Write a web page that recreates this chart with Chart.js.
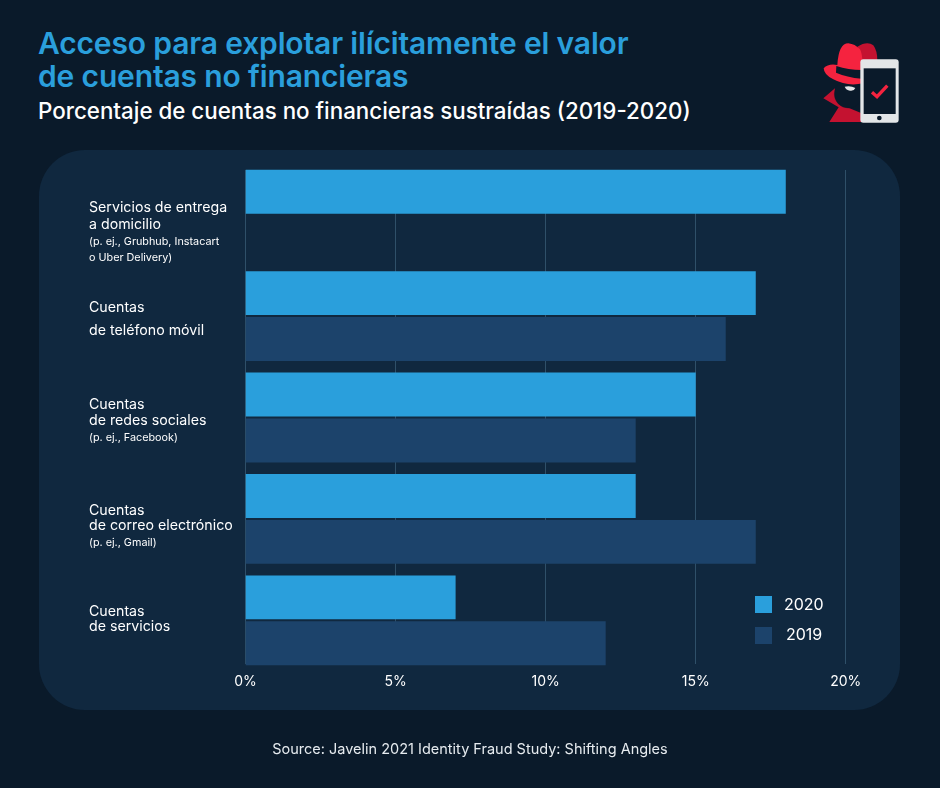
<!DOCTYPE html>
<html>
<head>
<meta charset="utf-8">
<script src="https://cdn.jsdelivr.net/npm/chart.js@4"></script>
<style>
html, body { margin: 0; padding: 0; background: #0a1a2a; }
body { width: 940px; height: 788px; position: relative; overflow: hidden; font-family: Inter, sans-serif; color: #fff; }
#panel { position: absolute; left: 39px; top: 150px; width: 861px; height: 560px; border-radius: 46px; background: #10283f; }
#chartWrap { position: absolute; left: 0; top: 0; width: 940px; height: 788px; }
h1 { position: absolute; left: 38px; top: 27px; margin: 0; font-size: 30px; line-height: 33px; font-weight: 600; color: #2a9fdc; letter-spacing: -0.15px; }
h2 { position: absolute; left: 38px; top: 97px; margin: 0; font-size: 22.35px; line-height: 28px; font-weight: 500; color: #fff; }
#source { position: absolute; left: 0; width: 940px; top: 740px; text-align: center; font-size: 14.5px; line-height: 18px; color: #e6ebef; }
#icon { position: absolute; left: 780px; top: 20px; }
</style>
</head>
<body>
<h1>Acceso para explotar ilícitamente el valor<br>de cuentas no financieras</h1>
<h2>Porcentaje de cuentas no financieras sustraídas (2019-2020)</h2>
<svg id="icon" width="140" height="120" viewBox="0 0 420 360">
  <path d="M130 235 L165 205 L185 255 L245 280 L245 306 L148 306 L176 262 Z" fill="#c41230"/>
  <circle cx="205" cy="222" r="42" fill="#0a1a2a" stroke="#0a1a2a"/>
  <path d="M194 200 Q212 196 226 204 Q222 214 210 212 Q198 210 194 200 Z" fill="#e3e6e8"/>
  <path d="M232 80 Q262 62 280 76 Q292 92 292 122 L245 122 Z" fill="#c41230"/>
  <path d="M172 135 Q176 70 205 70 Q225 72 240 88 Q250 105 250 190 Q200 200 160 178 Q132 165 131 145 Q145 130 172 135 Z" fill="#f5233f"/>
  <path d="M169 138 L168 158 Q200 172 245 176 L245 150 Q205 150 169 138 Z" fill="#0a1a2a"/>
  <rect x="241" y="118" width="115" height="190" rx="9" fill="#e3e6e8"/>
  <rect x="251" y="145" width="96" height="137" fill="#0a1a2a"/>
  <circle cx="298" cy="294" r="7" fill="#0a1a2a"/>
  <path d="M276 217 L291 230 L322 197" fill="none" stroke="#f5233f" stroke-width="10"/>
</svg>
<div id="panel"></div>
<div id="chartWrap"><canvas id="barChart" width="940" height="788"></canvas></div>
<div id="source">Source: Javelin 2021 Identity Fraud Study: Shifting Angles</div>

<script>
var categories = ['Servicios de entrega a domicilio', 'Cuentas de teléfono móvil', 'Cuentas de redes sociales', 'Cuentas de correo electrónico', 'Cuentas de servicios']
var categoryLines = [
    ['Servicios de entrega', 'a domicilio'],
    ['Cuentas', 'de teléfono móvil'],
    ['Cuentas', 'de redes sociales'],
    ['Cuentas', 'de correo electrónico'],
    ['Cuentas', 'de servicios']
]
var categoryNotes = [
    ['(p. ej., Grubhub, Instacart', 'o Uber Delivery)'],
    [],
    ['(p. ej., Facebook)'],
    ['(p. ej., Gmail)'],
    []
]
var values2020 = [18, 17, 15, 13, 7]
var values2019 = [null, 16, 13, 17, 12]
var xTicks = [0, 5, 10, 15, 20]

// grid lines stop short of the category band, so they are drawn here
var shortGrid = {
    id: 'shortGrid',
    beforeDatasetsDraw: function (chart) {
        var ctx = chart.ctx
        var x = chart.scales.x
        ctx.save()
        ctx.strokeStyle = '#2f5069'
        ctx.lineWidth = 1
        xTicks.forEach(function (t) {
            var px = Math.floor(x.getPixelForValue(t)) + 0.5
            ctx.beginPath()
            ctx.moveTo(px, chart.chartArea.top + 6)
            ctx.lineTo(px, chart.chartArea.bottom - 7)
            ctx.stroke()
        })
        ctx.restore()
    }
}

// labels mix two font sizes, ticks can't do that
var sideLabels = {
    id: 'sideLabels',
    afterDraw: function (chart) {
        var ctx = chart.ctx
        var y = chart.scales.y
        var topShift = [-6.5, -8, -13, -8, -9]
        var mainGap = [17, 23, 16, 15, 15]
        ctx.save()
        ctx.fillStyle = '#ffffff'
        ctx.textBaseline = 'middle'
        ctx.textAlign = 'left'
        categories.forEach(function (c, i) {
            var top = y.getPixelForValue(i) + topShift[i]
            ctx.font = '14.2px Inter'
            categoryLines[i].forEach(function (line, k) {
                ctx.fillText(line, 89, top + k * mainGap[i])
            })
            ctx.font = '10.8px Inter'
            categoryNotes[i].forEach(function (line, k) {
                ctx.fillText(line, 89, top + mainGap[i] + 17 + k * 15.5)
            })
        })
        ctx.restore()
    }
}

var cornerLegend = {
    id: 'cornerLegend',
    afterDraw: function (chart) {
        var ctx = chart.ctx
        ctx.save()
        ctx.font = '16px Inter'
        ctx.textBaseline = 'middle'
        ctx.textAlign = 'left'
        chart.data.datasets.forEach(function (ds, i) {
            var top = 596 + i * 31
            ctx.fillStyle = ds.backgroundColor
            ctx.fillRect(755, top, 17, 17)
            ctx.fillStyle = '#ffffff'
            ctx.fillText(ds.label, i == 0 ? 784 : 786, top + (i == 0 ? 9 : 8))
        })
        ctx.restore()
    }
}

var config = {
    type: 'bar',
    data: {
        labels: categories,
        datasets: [
            { label: '2020', data: values2020, backgroundColor: '#2a9fdc', barPercentage: 0.956, categoryPercentage: 0.906 },
            { label: '2019', data: values2019, backgroundColor: '#1c436b', barPercentage: 0.956, categoryPercentage: 0.906 }
        ]
    },
    options: {
        indexAxis: 'y',
        responsive: false,
        animation: false,
        layout: { padding: { left: 245.5, right: 94.2, top: 164, bottom: 77 } },
        plugins: { legend: { display: false }, tooltip: { enabled: false } },
        scales: {
            y: { display: false },
            x: {
                min: 0,
                max: 20,
                afterFit: function (scale) { scale.height = 40 },
                grid: { display: false, drawTicks: false },
                border: { display: false },
                ticks: {
                    stepSize: 5,
                    padding: 2,
                    maxRotation: 0,
                    color: '#ffffff',
                    font: { family: 'Inter', size: 14 },
                    callback: function (v) { return v + '%' }
                }
            }
        }
    },
    plugins: [shortGrid, sideLabels, cornerLegend]
}

window.onload = function () {
    var ctx = document.getElementById('barChart').getContext('2d')
    window.myBar = new Chart(ctx, config)
}
</script>
</body>
</html>
